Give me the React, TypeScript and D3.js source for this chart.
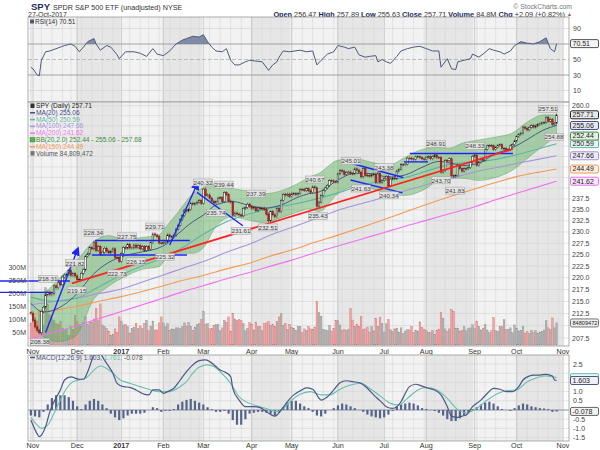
import React from 'react';
import * as d3 from 'd3';

const FONT = 'Liberation Sans, Arial, Helvetica, sans-serif';

// panel frames (px)
const X0 = 28;
const X1 = 569;
const RSI_TOP = 17;
const RSI_BOT = 102;
const PX_TOP = 102;
const PX_BOT = 346;
const MD_TOP = 355;
const MD_BOT = 441;

const holidays = [
  '2016-11-24', '2016-12-26', '2017-01-02', '2017-01-16', '2017-02-20',
  '2017-04-14', '2017-05-29', '2017-07-04', '2017-09-04',
];

// daily closes, 31-Oct-2016 .. 27-Oct-2017
const firstOpen = 212.68;
const closes = [
  212.55,
  // Nov
  211.01, 209.74, 209.0, 208.55, 212.93, 213.8, 216.38, 216.92, 216.42, 216.59, 218.28,
  217.87, 218.99, 218.5, 220.15, 220.58, 220.7, 221.52, 220.48, 220.91, 220.38,
  // Dec
  219.57, 219.68, 220.96, 221.7, 224.6, 225.15, 226.51, 226.25, 227.76, 225.88, 226.81,
  225.04, 225.53, 226.4, 225.77, 225.38, 225.71, 226.27, 224.4, 224.35, 223.53,
  // Jan
  225.24, 226.58, 226.4, 227.21, 226.46, 226.46, 227.1, 226.53, 227.05, 226.25,
  226.75, 225.91, 226.74, 226.15, 227.6, 229.57, 229.33, 228.97, 227.55, 227.53,
  // Feb
  227.62, 227.77, 229.34, 228.93, 228.94, 229.24, 230.6, 231.51, 232.77, 233.7,
  234.92, 234.72, 235.09, 236.49, 236.28, 236.44, 236.74, 237.11, 236.47,
  // Mar
  239.78, 238.27, 238.42, 237.71, 237.0, 236.56, 236.86, 237.69, 237.81, 236.9, 238.95,
  238.48, 237.03, 236.77, 233.73, 234.28, 234.03, 233.86, 233.62, 235.32, 235.54, 236.29, 235.74,
  // Apr
  235.33, 235.48, 234.78, 235.44, 235.2, 235.34, 235.06, 234.03, 232.51, 234.57,
  233.87, 233.44, 235.34, 234.59, 237.17, 238.55, 238.4, 238.6, 238.08,
  // May
  238.68, 238.77, 238.48, 238.76, 239.7, 239.66, 239.44, 239.87, 239.38, 238.98, 240.3,
  240.08, 235.82, 236.77, 238.31, 239.52, 240.05, 240.61, 241.76, 241.71, 241.5, 241.44,
  // Jun
  243.36, 244.17, 243.99, 243.21, 243.66, 243.78, 243.41, 243.36, 244.55, 244.24, 243.77,
  242.64, 244.66, 243.01, 242.95, 242.84, 243.13, 243.29, 241.33, 243.49, 241.35, 241.8,
  // Jul
  242.21, 242.77, 240.55, 242.11, 242.37, 242.19, 244.01, 244.42, 245.56, 245.53,
  245.66, 247.1, 247.09, 246.88, 246.82, 247.42, 247.43, 247.2, 246.91, 246.77,
  // Aug
  247.32, 247.44, 246.96, 247.41, 247.87, 247.26, 247.25, 243.76, 244.12, 246.54, 246.51, 246.94,
  242.9, 242.71, 243.01, 245.44, 244.56, 243.99, 244.56, 244.57, 244.85, 246.01, 247.49,
  // Sep
  247.84, 245.39, 246.06, 246.9, 246.58, 249.21, 250.05, 250.17, 250.09, 249.19,
  249.72, 250.18, 250.36, 249.44, 249.44, 248.93, 249.08, 250.05, 250.35, 251.23,
  // Oct
  252.32, 252.86, 253.16, 254.66, 254.37, 253.95, 254.62, 255.02, 254.64, 254.95,
  255.29, 255.47, 255.72, 255.79, 257.11, 256.11, 256.56, 255.29, 255.62, 257.71,
];

// daily volume, millions
const volumes = [
  85,
  101, 108, 92, 131, 118, 77, 220, 158, 116, 102, 95, 82, 80, 90, 65, 57, 60, 36, 70, 60, 115,
  89, 78, 72, 86, 108, 79, 90, 88, 100, 141, 93, 158, 77, 72, 63, 53, 37, 42, 62, 48, 108,
  92, 77, 80, 71, 46, 63, 68, 84, 64, 73, 64, 84, 95, 56, 71, 92, 58, 58, 85, 108,
  85, 70, 82, 55, 62, 61, 66, 66, 63, 70, 85, 73, 87, 72, 55, 69, 78, 82, 97,
  130, 80, 82, 62, 63, 75, 78, 80, 55, 66, 95, 88, 108, 53, 120, 100, 95, 98, 94, 83, 55, 65, 86,
  80, 58, 88, 70, 72, 56, 82, 85, 90, 76, 78, 70, 90, 108, 120, 76, 84, 60, 80,
  68, 65, 57, 72, 72, 48, 62, 56, 71, 62, 61, 69, 167, 124, 111, 60, 58, 56, 74, 54, 63, 94,
  93, 77, 55, 60, 56, 60, 140, 96, 70, 80, 72, 110, 60, 62, 69, 50, 71, 54, 103, 72, 105, 82,
  50, 82, 98, 59, 52, 62, 65, 50, 66, 43, 54, 59, 58, 72, 49, 57, 54, 89, 68, 61,
  56, 48, 48, 56, 40, 57, 61, 125, 103, 62, 53, 62, 137, 130, 65, 65, 54, 56, 70, 55, 63, 66, 78,
  63, 91, 70, 58, 65, 80, 58, 47, 55, 105, 56, 52, 70, 70, 97, 60, 60, 66, 47, 77,
  65, 54, 56, 72, 46, 51, 45, 57, 48, 56, 45, 50, 52, 58, 93, 66, 60, 104, 66, 85,
];

// overlays: trading-day index + value
const bbIdx = [0, 6, 13, 21, 30, 37, 45, 53, 61, 64, 70, 77, 82, 88, 96, 103, 111, 119, 127, 132, 137, 146, 154, 162, 170, 178, 186, 194, 199, 205, 213, 221, 229, 236, 244, 250];
const bbUpper = [217.0, 217.0, 219.7, 223.3, 227.9, 229.2, 228.3, 228.8, 229.4, 231.0, 234.5, 238.7, 240.1, 241.1, 239.9, 239.4, 238.7, 239.4, 241.1, 242.5, 243.5, 246.6, 247.0, 246.1, 245.4, 247.3, 249.2, 249.7, 249.5, 250.7, 251.5, 252.2, 253.2, 255.9, 257.7, 257.68];
const bbLower = [213.4, 207.8, 206.8, 207.8, 215.5, 218.2, 220.3, 221.8, 222.4, 224.0, 225.3, 225.3, 226.5, 231.2, 233.4, 232.7, 232.1, 233.2, 234.5, 235.2, 234.6, 238.7, 240.4, 239.9, 238.7, 238.3, 239.4, 241.8, 242.3, 242.3, 241.8, 242.5, 244.2, 247.0, 250.2, 252.44];
const ma20 = [214.6, 212.8, 213.6, 216.2, 220.9, 223.3, 224.8, 225.6, 226.5, 227.2, 229.6, 232.3, 233.8, 236.1, 236.9, 236.1, 235.4, 236.1, 237.9, 238.7, 239.1, 241.9, 243.5, 243.4, 242.6, 243.1, 244.9, 246.3, 246.0, 245.3, 245.9, 248.2, 249.6, 251.6, 254.0, 255.06];

const maIdx = [0, 11, 22, 32, 43, 53, 63, 72, 82, 93, 105, 114, 124, 135, 146, 157, 168, 178, 188, 199, 211, 221, 231, 241, 250];
const ma50 = [215.9, 215.0, 215.7, 218.0, 220.6, 222.6, 224.3, 226.5, 229.5, 232.3, 234.2, 235.4, 236.2, 237.4, 238.9, 240.6, 241.8, 242.5, 244.0, 245.6, 246.2, 246.8, 247.9, 249.3, 250.59];
const ma100 = [214.3, 215.0, 215.7, 216.6, 217.6, 219.1, 220.6, 222.0, 223.5, 225.5, 227.5, 229.3, 231.0, 232.9, 234.9, 236.4, 237.9, 239.4, 240.8, 242.2, 243.8, 244.8, 245.8, 246.8, 247.66];
const ma150 = [212.2, 213.1, 214.0, 215.0, 216.0, 217.1, 218.3, 219.4, 220.5, 221.9, 223.3, 224.7, 226.0, 227.7, 229.3, 231.0, 232.8, 234.5, 236.2, 238.0, 239.8, 241.3, 242.7, 243.7, 244.49];
const ma200 = [207.4, 208.7, 210.0, 211.4, 212.9, 214.3, 215.7, 217.0, 218.3, 219.8, 221.3, 222.5, 223.8, 225.4, 226.9, 228.4, 229.9, 231.3, 232.6, 234.1, 235.7, 237.3, 238.8, 240.3, 241.62];

const rsi: [number, number][] = [
  [0, 40], [1, 38], [3, 30], [4, 29], [5, 49], [7, 60], [9, 61], [11, 63], [14, 66], [16, 68], [19, 70],
  [21, 67], [23, 60], [25, 66], [27, 73], [30, 77], [31, 70], [33, 62], [36, 68], [38, 66], [41, 56],
  [42, 51], [45, 60], [49, 60], [52, 58], [55, 54], [58, 64], [60, 57], [63, 55], [66, 61], [69, 70],
  [72, 75], [74, 77], [77, 80], [80, 79], [82, 82], [84, 73], [86, 66], [88, 61], [91, 60], [93, 64],
  [95, 49], [97, 43], [99, 43], [102, 47], [104, 49], [107, 48], [110, 47], [113, 36], [115, 43],
  [117, 47], [118, 53], [120, 61], [123, 60], [128, 62], [131, 60], [134, 61], [136, 43], [138, 49],
  [141, 57], [144, 60], [146, 68], [149, 66], [151, 64], [154, 66], [156, 56], [159, 53], [161, 54],
  [164, 55], [165, 47], [167, 50], [169, 47], [171, 45], [174, 54], [176, 61], [179, 64], [182, 66],
  [185, 67], [188, 64], [191, 61], [194, 61], [195, 40], [198, 51], [200, 38], [202, 37], [203, 47],
  [206, 49], [209, 51], [210, 57], [213, 53], [215, 57], [218, 64], [220, 62], [223, 60], [225, 57],
  [228, 61], [230, 68], [233, 73], [236, 71], [239, 70], [242, 73], [245, 78], [247, 64], [249, 60],
  [250, 70.51],
];

const macd: [number, number][] = [
  [0, -0.54], [1, -0.82], [3, -1.3], [4, -1.45], [7, -0.9], [9, -0.1], [11, 0.45], [14, 1.09], [16, 1.63],
  [19, 1.8], [23, 1.67], [25, 1.67], [27, 2.08], [30, 3.0], [32, 3.3], [34, 2.9], [36, 2.54], [39, 2.0],
  [41, 1.45], [44, 1.27], [47, 1.23], [50, 1.09], [53, 0.9], [56, 0.82], [58, 1.09], [61, 1.09], [63, 0.9],
  [65, 1.0], [68, 1.18], [71, 1.63], [74, 2.08], [77, 2.45], [80, 2.68], [83, 2.72], [85, 2.63], [88, 2.36],
  [90, 2.17], [92, 2.08], [95, 1.81], [96, 1.18], [99, 0.54], [102, 0.18], [106, 0.18], [109, 0.13],
  [112, -0.09], [116, -0.33], [119, 0], [122, 0.45], [125, 0.82], [128, 1.04], [131, 1.2], [134, 1.13],
  [137, 0.64], [138, 0.54], [141, 0.72], [144, 1.09], [147, 1.48], [150, 1.59], [153, 1.54], [157, 1.45],
  [160, 1.18], [163, 0.82], [166, 0.51], [169, 0.18], [172, 0.09], [176, 0.45], [178, 0.9], [180, 1.27],
  [183, 1.4], [186, 1.3], [189, 1.18], [192, 1.09], [195, 0.82], [198, 0.18], [200, -0.33], [203, -0.4],
  [205, -0.33], [207, -0.27], [210, 0.18], [214, 0.54], [217, 0.9], [220, 1.18], [223, 1.13], [226, 1.0],
  [229, 1.0], [232, 1.27], [234, 1.63], [237, 1.85], [239, 1.9], [242, 1.9], [245, 1.94], [248, 1.85],
  [249, 1.63], [250, 1.603],
];

const signal: [number, number][] = [
  [0, -0.4], [3, -0.82], [5, -1.0], [8, -0.82], [11, -0.18], [14, 0.54], [17, 1.18], [20, 1.54], [23, 1.63],
  [27, 1.81], [30, 2.17], [33, 2.39], [36, 2.26], [39, 2.0], [42, 1.67], [47, 1.45], [52, 1.27], [57, 1.09],
  [61, 1.0], [66, 1.0], [71, 1.27], [74, 1.54], [77, 2.0], [80, 2.32], [84, 2.45], [87, 2.36], [90, 2.08],
  [95, 1.45], [99, 0.72], [104, 0.36], [109, 0.18], [114, 0], [117, -0.09], [120, 0.09], [124, 0.54],
  [128, 0.86], [133, 1.0], [138, 0.82], [142, 0.82], [147, 1.13], [152, 1.36], [157, 1.45], [161, 1.18],
  [166, 0.77], [171, 0.36], [175, 0.27], [179, 0.63], [184, 1.09], [188, 1.22], [193, 1.09], [198, 0.63],
  [203, 0.02], [207, -0.16], [212, 0.09], [217, 0.54], [222, 0.9], [226, 1.05], [231, 1.09], [236, 1.54],
  [241, 1.77], [245, 1.85], [250, 1.761],
];

// MACD histogram, every other trading day from index 0
const histogram = [
  -0.3, -0.35, -0.4, -0.1, 0.3, 0.65, 0.8, 0.8, 0.8, 0.7, 0.5, 0.2, 0.05, 0.3, 0.5, 0.6, 0.5, 0.3, 0.1,
  -0.2, -0.4, -0.55, -0.45, -0.3, -0.2, -0.2, -0.2, -0.15, 0.0, 0.15, 0.1, -0.1, -0.05, -0.05, 0.05,
  0.3, 0.45, 0.55, 0.6, 0.5, 0.4, 0.3, 0.15, 0.05, -0.1, -0.1, -0.05, -0.2, -0.55, -0.8, -0.8, -0.5,
  -0.2, -0.15, -0.1, -0.1, -0.15, -0.2, -0.3, -0.15, 0.15, 0.4, 0.5, 0.5, 0.35, 0.2, 0.1, -0.1, -0.3,
  -0.35, -0.2, 0.0, 0.1, 0.25, 0.35, 0.3, 0.2, 0.1, 0.0, -0.1, -0.25, -0.35, -0.4, -0.45, -0.4, -0.25,
  -0.05, 0.2, 0.3, 0.35, 0.4, 0.35, 0.25, 0.1, 0.05, 0.0, -0.05, -0.15, -0.3, -0.5, -0.6, -0.6, -0.45,
  -0.3, -0.1, 0.05, 0.15, 0.3, 0.4, 0.45, 0.35, 0.2, 0.05, 0.0, -0.05, 0.1, 0.25, 0.35, 0.3, 0.2, 0.15,
  0.1, 0.08, 0.05, -0.1, -0.08,
];

// high / low call-outs: index, price position, text
const callouts: [number, number, string][] = [
  [4.3, 206.7, '208.38'], [8.1, 219.7, '218.31'], [21, 223.1, '221.82'], [21.9, 217.3, '219.15'],
  [29.8, 229.8, '228.34'], [41, 220.9, '222.73'], [45.7, 229.0, '227.75'], [50, 223.5, '226.15'],
  [59, 231.2, '229.71'], [63.8, 224.5, '225.32'], [81.8, 241.3, '240.32'], [91.8, 240.8, '239.44'],
  [88, 234.3, '235.74'], [99.9, 230.2, '231.61'], [107, 238.7, '237.39'], [112.7, 231.0, '232.51'],
  [135.1, 242.0, '240.67'], [136.5, 233.6, '235.43'], [152.2, 246.4, '245.01'], [167.9, 244.9, '243.38'],
  [157, 239.9, '241.63'], [170.3, 238.3, '240.34'], [192.6, 250.5, '248.91'], [195, 241.8, '243.70'],
  [201.7, 239.4, '241.83'], [211.2, 250.0, '248.33'], [245.9, 259.2, '257.51'], [248.7, 252.2, '254.88'],
];

// drawn trend lines: i1, p1, i2, p2
const blueLines: [number, number, number, number][] = [
  [-15, 219.3, 18.6, 219.3], [-15, 216.9, 10.5, 216.9],
  [30.5, 228.1, 75.6, 228.1], [29, 224.9, 74.2, 224.9],
  [79, 239.0, 100.8, 231.4],
  [152.7, 245.8, 177, 242.5], [152, 241.9, 176.7, 238.9],
  [180.2, 248.2, 229.2, 248.2], [177.4, 246.2, 188.8, 246.2],
];
const blueArrows: [number, number, number, number][] = [
  [7, 208.6, 22.4, 226.4], [66, 227.1, 79.4, 241.3],
];
const redLine: [number, number, number, number] = [19.5, 218.8, 229.2, 249.3];

const priceTicks = d3.range(207.5, 260.01, 2.5);
const volTicks = [50, 100, 150, 200, 250, 300];
const rsiTicks = [10, 30, 50, 70, 90];
const macdTicks = [-1.5, -1.0, -0.5, 0.0, 0.5, 1.0, 1.5, 2.0, 2.5];

const header: [string, string][] = [
  ['Open', '256.47'], ['High', '257.89'], ['Low', '255.63'], ['Close', '257.71'],
  ['Volume', '84.8M'], ['Chg', '+2.09 (+0.82%)'],
];

const C = {
  ma20: '#3d4b8a', ma50: '#5fb5a2', ma100: '#a893d8', ma200: '#ef72ef', ma150: '#f39a55',
  bb: '#3d8c3d', rsi: '#4d5b7c', macd: '#4a5888', sig: '#67c1ad', blue: '#1f24ff', red: '#ff2222',
};

const legend: { text: string; color: string; kind: string }[] = [
  { text: 'SPY (Daily) 257.71', color: '#222', kind: 'candle' },
  { text: 'MA(20) 255.06', color: C.ma20, kind: 'line' },
  { text: 'MA(50) 250.59', color: C.ma50, kind: 'line' },
  { text: 'MA(100) 247.66', color: C.ma100, kind: 'line' },
  { text: 'MA(200) 241.62', color: C.ma200, kind: 'line' },
  { text: 'BB(20,2.0) 252.44 - 255.06 - 257.68', color: C.bb, kind: 'band' },
  { text: 'MA(150) 244.49', color: C.ma150, kind: 'line' },
  { text: 'Volume 84,809,472', color: '#555', kind: 'bar' },
];

const priceTags: [number, string, string, string][] = [
  [241.62, '241.62', C.ma200, '#fbe6fb'],
  [244.49, '244.49', C.ma150, '#fdeee2'],
  [247.66, '247.66', C.ma100, '#efeaf8'],
  [250.59, '250.59', C.ma50, '#e7f4f1'],
  [252.44, '252.44', C.bb, '#e6f1e6'],
  [255.06, '255.06', C.ma20, '#e6e8f2'],
  [257.71, '257.71', '#222', '#e8e8e8'],
];
const volumeTag = 84.8;

// trading calendar for the x axis
const fmtDay = d3.utcFormat('%Y-%m-%d');
const dates = d3
  .utcDay.range(new Date(Date.UTC(2016, 9, 31)), new Date(Date.UTC(2017, 10, 2)))
  .filter((d) => d.getUTCDay() !== 0 && d.getUTCDay() !== 6 && !holidays.includes(fmtDay(d)));

const monthStarts = dates
  .map((d, i) => (i === 0 || d.getUTCMonth() !== dates[i - 1].getUTCMonth() ? i : -1))
  .filter((i) => i >= 0);
const weekStarts = dates
  .map((d, i) => (i > 0 && d.getUTCDay() < dates[i - 1].getUTCDay() ? i : -1))
  .filter((i) => i >= 0);

const x = d3.scaleLinear().domain([0, 253]).range([30.9, 562.96]);
const yP = d3.scaleLog().domain([207.5, 260]).range([338, 105.7]);
const yV = d3.scaleLinear().domain([0, 300]).range([345, 267]);
const yR = d3.scaleLinear().domain([0, 100]).range([98.25, 20.75]);
const yM = d3.scaleLinear().domain([-1.5, 2.5]).range([437.6, 364]);

const zip = (idx: number[], v: number[]) => idx.map((i, k) => [i, v[k]] as [number, number]);

function Tag({ y, text, stroke, fill, size = 7 }: { y: number; text: string; stroke: string; fill: string; size?: number }) {
  return (
    <g>
      <rect x={570.5} y={y - 4} width={28} height={8} rx={1.5} fill={fill} stroke={stroke} strokeWidth={1} />
      <text x={572.5} y={y + 2.4} fontSize={size} fill="#222">{text}</text>
    </g>
  );
}

export default function App() {
  const priceLine = d3.line<[number, number]>().x((d) => x(d[0])).y((d) => yP(d[1])).curve(d3.curveMonotoneX);
  const rsiLine = d3.line<[number, number]>().x((d) => x(d[0])).y((d) => yR(d[1]));
  const rsiArea = d3.area<[number, number]>().x((d) => x(d[0])).y0(yR(70)).y1((d) => yR(d[1]));
  const macdLine = d3.line<[number, number]>().x((d) => x(d[0])).y((d) => yM(d[1])).curve(d3.curveMonotoneX);
  const bbArea = d3
    .area<number>()
    .x((i) => x(bbIdx[i]))
    .y0((i) => yP(bbLower[i]))
    .y1((i) => yP(bbUpper[i]))
    .curve(d3.curveMonotoneX);
  const bbKeys = d3.range(bbIdx.length);

  // axis labels that sit under a value tag are hidden, as on the original
  const pxTagYs = [...priceTags.map((t) => yP(t[0])), yV(volumeTag)];
  const shownPriceTicks = priceTicks.filter((t) => pxTagYs.every((ty) => Math.abs(yP(t) - ty) > 7));
  const mdTagYs = [yM(1.761), yM(1.603), yM(-0.078)];
  const shownMacdTicks = macdTicks.filter((t) => mdTagYs.every((ty) => Math.abs(yM(t) - ty) > 6));

  const bands = monthStarts.map((s, k) => {
    const e = k + 1 < monthStarts.length ? monthStarts[k + 1] : 254;
    const x0 = Math.max(X0, x(s - 0.5));
    const x1 = Math.min(X1, x(e - 0.5));
    const dark = dates[s].getUTCMonth() % 2 === 1; // Feb, Apr, Jun ... Dec
    return { x0, x1, fill: dark ? '#e6e6e6' : '#f2f2f2' };
  });

  const monthLabels = monthStarts
    .filter((i) => i > 0)
    .map((i) => {
      const m = dates[i].getUTCMonth();
      return { i, text: m === 0 ? String(dates[i].getUTCFullYear()) : d3.utcFormat('%b')(dates[i]), bold: m === 0 };
    });

  const panelBg = (top: number, bot: number, key: string) => (
    <g key={key}>
      {bands.map((b, k) => (
        <rect key={k} x={b.x0} y={top} width={b.x1 - b.x0} height={bot - top} fill={b.fill} />
      ))}
      {weekStarts.map((i) => (
        <line key={'w' + i} x1={x(i)} x2={x(i)} y1={top} y2={bot} stroke="#d6d6d6" strokeWidth={0.6} />
      ))}
      {monthStarts.filter((i) => i > 0).map((i) => (
        <line key={'m' + i} x1={x(i)} x2={x(i)} y1={top} y2={bot} stroke="#c4c4c4" strokeWidth={0.8} />
      ))}
    </g>
  );

  const seg = (l: [number, number, number, number]) => ({ x1: x(l[0]), y1: yP(l[1]), x2: x(l[2]), y2: yP(l[3]) });

  return (
    <svg width={600} height={450} style={{ position: 'absolute', left: 0, top: 0, background: '#fff' }} fontFamily={FONT}>
      <defs>
        <clipPath id="clipPx"><rect x={X0} y={PX_TOP} width={X1 - X0} height={PX_BOT - PX_TOP} /></clipPath>
        <clipPath id="clipRsi"><rect x={X0} y={RSI_TOP} width={X1 - X0} height={RSI_BOT - RSI_TOP} /></clipPath>
        <clipPath id="clipRsiHi"><rect x={X0} y={RSI_TOP} width={X1 - X0} height={yR(70) - RSI_TOP} /></clipPath>
        <clipPath id="clipMd"><rect x={X0} y={MD_TOP} width={X1 - X0} height={MD_BOT - MD_TOP} /></clipPath>
        <marker id="arrow" viewBox="0 0 10 10" refX={8} refY={5} markerWidth={9} markerHeight={9} markerUnits="userSpaceOnUse" orient="auto">
          <path d="M0,0 L10,5 L0,10 z" fill={C.blue} />
        </marker>
      </defs>

      {/* title */}
      <text x={31} y={10} fontSize={9.5} fontWeight="bold" fill="#1c2a5c">SPY</text>
      <text x={53} y={10} fontSize={7.2} fill="#333">SPDR S&amp;P 500 ETF (unadjusted) NYSE</text>
      <text x={28} y={17} fontSize={7} fill="#333">27-Oct-2017</text>
      <text x={572} y={8.5} fontSize={6.8} fill="#777" textAnchor="end">© StockCharts.com</text>
      <text x={565} y={16.5} fontSize={7.3} textAnchor="end">
        {header.map(([k, v], n) => (
          <React.Fragment key={k}>
            <tspan fontWeight="bold" fill="#1c2a5c">{(n ? '  ' : '') + k}</tspan>
            <tspan fill="#333">{' ' + v}</tspan>
          </React.Fragment>
        ))}
      </text>
      <text x={567} y={16} fontSize={5} fill="#9a5a2a">▲</text>

      {/* ---------- RSI panel ---------- */}
      {panelBg(RSI_TOP, RSI_BOT, 'rsibg')}
      {rsiTicks.map((t) => (
        <line key={t} x1={X0} x2={X1} y1={yR(t)} y2={yR(t)}
          stroke={t === 30 || t === 70 ? '#9a9a9a' : t === 50 ? '#a8a8a8' : '#d4d4d4'}
          strokeWidth={t === 30 || t === 70 ? 0.9 : 0.7} strokeDasharray={t === 50 ? '4,2' : undefined} />
      ))}
      <g clipPath="url(#clipRsiHi)">
        <path d={rsiArea(rsi) ?? ''} fill="#6d7b98" opacity={0.85} />
      </g>
      <g clipPath="url(#clipRsi)">
        <path d={rsiLine(rsi) ?? ''} fill="none" stroke={C.rsi} strokeWidth={1} />
      </g>
      <rect x={X0} y={RSI_TOP} width={X1 - X0} height={RSI_BOT - RSI_TOP} fill="none" stroke="#999" strokeWidth={0.8} />
      <rect x={30} y={19.5} width={4} height={4} fill="#4d5b7c" />
      <text x={35} y={23.5} fontSize={6.5} fill="#333">RSI(14) 70.51</text>
      {rsiTicks.filter((t) => t !== 70).map((t) => (
        <text key={t} x={573} y={yR(t) + 2.5} fontSize={7} fill="#444">{t}</text>
      ))}
      <Tag y={yR(70.51)} text="70.51" stroke="#555" fill="#f4f4f4" />

      {/* ---------- price panel ---------- */}
      {panelBg(PX_TOP, PX_BOT, 'pxbg')}
      {priceTicks.map((t) => (
        <line key={t} x1={X0} x2={X1} y1={yP(t)} y2={yP(t)} stroke="#d2d2d2" strokeWidth={0.6} />
      ))}
      <g clipPath="url(#clipPx)">
        {volumes.map((v, i) => {
          const up = closes[i] >= (i ? closes[i - 1] : firstOpen);
          return (
            <rect key={i} x={x(i) - 0.85} y={yV(v)} width={1.7} height={yV(0) - yV(v)}
              fill={up ? '#b3b3b3' : '#f0a6a6'} stroke={up ? '#8c8c8c' : '#d46a6a'} strokeWidth={0.35} />
          );
        })}
        <path d={bbArea(bbKeys) ?? ''} fill="#58ad58" fillOpacity={0.45} stroke={C.bb} strokeWidth={0.5} strokeOpacity={0.7} />
        <path d={priceLine(zip(maIdx, ma200)) ?? ''} fill="none" stroke={C.ma200} strokeWidth={1.1} />
        <path d={priceLine(zip(maIdx, ma150)) ?? ''} fill="none" stroke={C.ma150} strokeWidth={1.1} />
        <path d={priceLine(zip(maIdx, ma100)) ?? ''} fill="none" stroke={C.ma100} strokeWidth={1.1} />
        <path d={priceLine(zip(maIdx, ma50)) ?? ''} fill="none" stroke={C.ma50} strokeWidth={1.1} />
        <path d={priceLine(zip(bbIdx, ma20)) ?? ''} fill="none" stroke={C.ma20} strokeWidth={0.9} />
        {closes.map((c, i) => {
          const o = i ? closes[i - 1] : firstOpen;
          const up = c >= o;
          const top = yP(Math.max(o, c));
          const bot = yP(Math.min(o, c));
          return (
            <g key={i}>
              <line x1={x(i)} x2={x(i)} y1={yP(Math.max(o, c) + 0.35)} y2={yP(Math.min(o, c) - 0.35)} stroke="#222" strokeWidth={0.5} />
              <rect x={x(i) - 0.8} y={top} width={1.6} height={Math.max(0.6, bot - top)}
                fill={up ? '#f4f4f4' : '#c62020'} stroke={up ? '#111' : '#8a1010'} strokeWidth={0.45} />
            </g>
          );
        })}
      </g>
      {blueLines.map((l, k) => (
        <line key={k} {...seg(l)} stroke={C.blue} strokeWidth={1.4} />
      ))}
      {blueArrows.map((l, k) => (
        <line key={'a' + k} {...seg(l)} stroke={C.blue} strokeWidth={1.4} markerEnd="url(#arrow)" />
      ))}
      <line {...seg(redLine)} stroke={C.red} strokeWidth={1.8} />
      {callouts.map(([i, p, t], k) => (
        <g key={k}>
          <rect x={x(i) - 9.5} y={yP(p) - 3.6} width={19} height={7} fill="#e2e2e2" stroke="#9c9c9c" strokeWidth={0.5} />
          <text x={x(i)} y={yP(p) + 2.2} fontSize={6.2} textAnchor="middle" fill="#444">{t}</text>
        </g>
      ))}
      <rect x={X0} y={PX_TOP} width={X1 - X0} height={PX_BOT - PX_TOP} fill="none" stroke="#999" strokeWidth={0.8} />

      {/* legend */}
      {legend.map((e, k) => {
        const yy = 108 + k * 6.8;
        return (
          <g key={k}>
            {e.kind === 'line' && <line x1={30} x2={35} y1={yy - 2} y2={yy - 2} stroke={e.color} strokeWidth={1.5} />}
            {e.kind === 'candle' && <rect x={30.5} y={yy - 4.5} width={4} height={4.5} fill="#333" />}
            {e.kind === 'band' && <rect x={30} y={yy - 4.5} width={5} height={4.5} fill="#58ad58" stroke={C.bb} strokeWidth={0.5} />}
            {e.kind === 'bar' && <rect x={30.5} y={yy - 4.5} width={4} height={4.5} fill="#777" />}
            <text x={36} y={yy} fontSize={6.6} fill={e.color}>{e.text}</text>
          </g>
        );
      })}

      {/* price axis */}
      {shownPriceTicks.map((t) => (
        <text key={t} x={572} y={yP(t) + 2.5} fontSize={7} fill="#444">{t.toFixed(1)}</text>
      ))}
      {priceTags.map(([v, t, s, f]) => (
        <Tag key={t} y={yP(v)} text={t} stroke={s} fill={f} />
      ))}
      <Tag y={yV(volumeTag)} text="84809472" stroke="#777" fill="#eeeeee" size={5.6} />
      {volTicks.map((t) => (
        <text key={t} x={26} y={yV(t) + 2.5} fontSize={7} fill="#444" textAnchor="end">{t}M</text>
      ))}

      {/* date labels */}
      {monthLabels.map((m) => (
        <g key={m.i}>
          <text x={x(m.i)} y={353.5} fontSize={7.2} textAnchor="middle" fill="#333" fontWeight={m.bold ? 'bold' : 'normal'}>{m.text}</text>
          <text x={x(m.i)} y={447.5} fontSize={7.2} textAnchor="middle" fill="#333" fontWeight={m.bold ? 'bold' : 'normal'}>{m.text}</text>
        </g>
      ))}

      {/* ---------- MACD panel ---------- */}
      {panelBg(MD_TOP, MD_BOT, 'mdbg')}
      {macdTicks.map((t) => (
        <line key={t} x1={X0} x2={X1} y1={yM(t)} y2={yM(t)} stroke="#d4d4d4" strokeWidth={0.6} />
      ))}
      <g clipPath="url(#clipMd)">
        {histogram.map((v, k) => {
          const i = k * 2;
          const y0 = yM(0);
          const y1 = yM(v);
          return <rect key={k} x={x(i) - 1.1} y={Math.min(y0, y1)} width={2.2} height={Math.abs(y1 - y0)} fill="#56648a" />;
        })}
        <line x1={X0} x2={X1} y1={yM(0)} y2={yM(0)} stroke="#56648a" strokeWidth={0.6} />
        <path d={macdLine(signal) ?? ''} fill="none" stroke={C.sig} strokeWidth={1.1} />
        <path d={macdLine(macd) ?? ''} fill="none" stroke={C.macd} strokeWidth={1.2} />
      </g>
      <rect x={X0} y={MD_TOP} width={X1 - X0} height={MD_BOT - MD_TOP} fill="none" stroke="#999" strokeWidth={0.8} />
      <line x1={30} x2={35} y1={357.5} y2={357.5} stroke={C.macd} strokeWidth={1.5} />
      <text x={36} y={360} fontSize={6.6}>
        <tspan fill={C.macd}>MACD(12,26,9) 1.603,</tspan>
        <tspan fill={C.sig}> 1.761,</tspan>
        <tspan fill="#555"> -0.078</tspan>
      </text>
      {shownMacdTicks.map((t) => (
        <text key={t} x={573} y={yM(t) + 2.5} fontSize={7} fill="#444">{t.toFixed(1)}</text>
      ))}
      <Tag y={yM(1.761)} text="" stroke={C.sig} fill="#e7f4f1" />
      <Tag y={yM(1.603)} text="1.603" stroke={C.macd} fill="#eef0f6" />
      <Tag y={yM(-0.078)} text="-0.078" stroke="#666" fill="#f2f2f2" />
    </svg>
  );
}
